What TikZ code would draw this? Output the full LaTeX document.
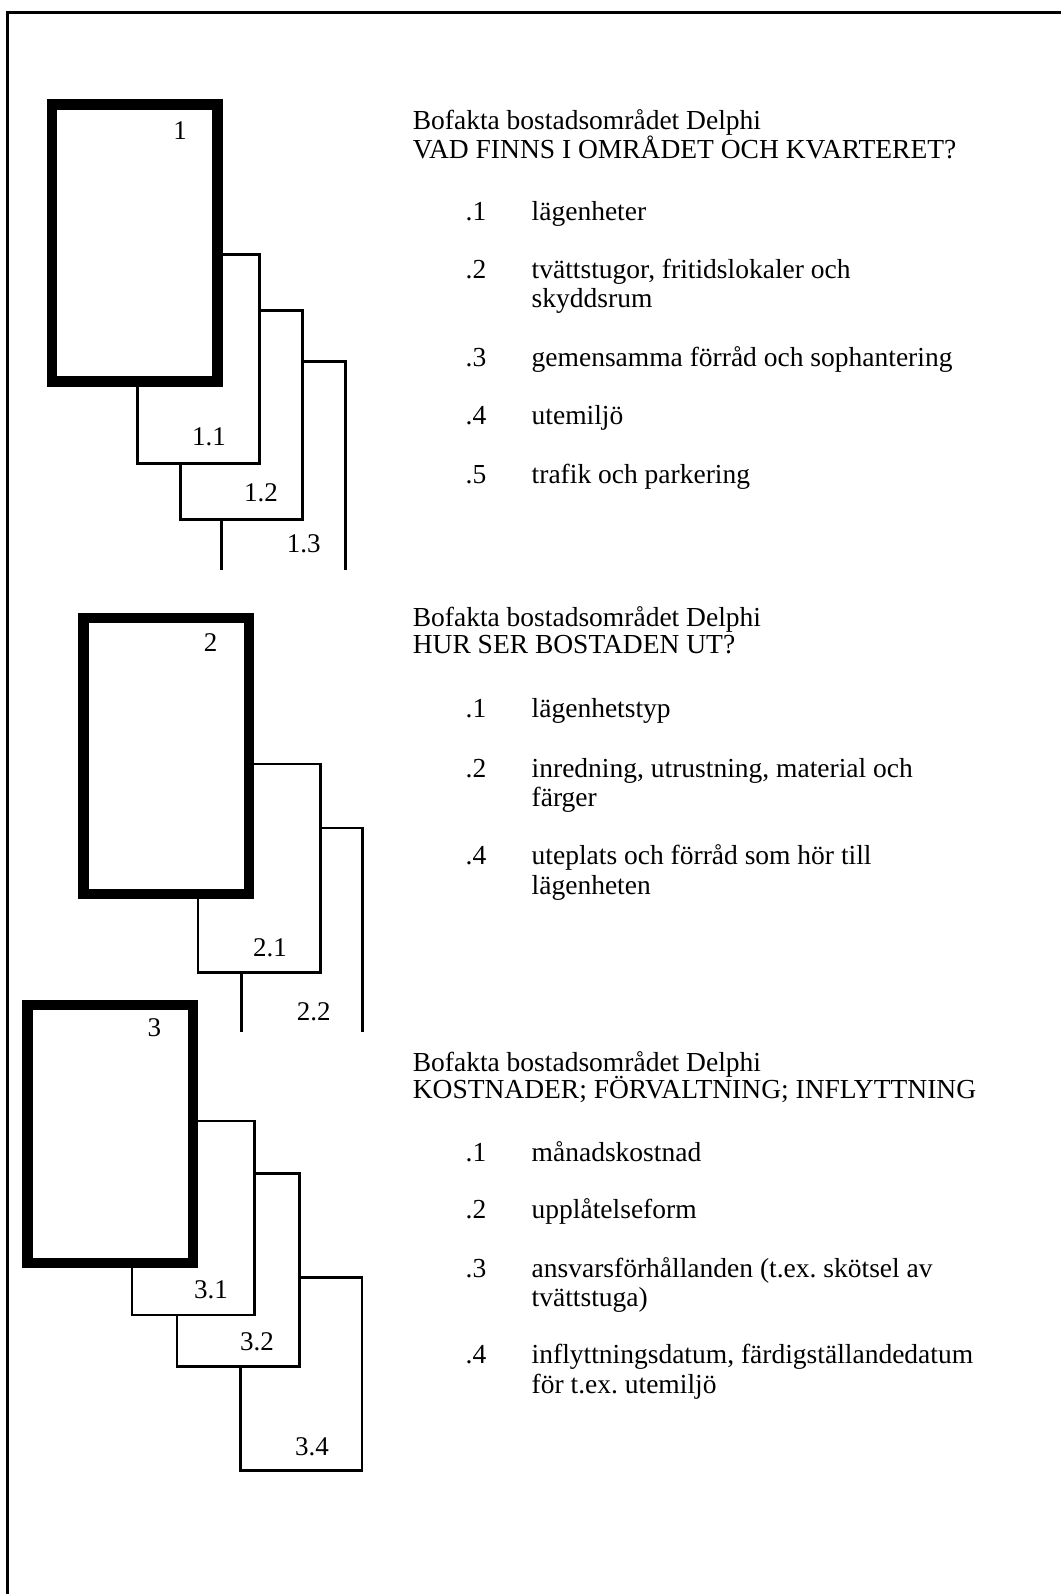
\documentclass[tikz,border=0pt]{standalone}
\usepackage{fontspec}
\setmainfont{Liberation Serif}
\frenchspacing
\begin{document}
\begin{tikzpicture}[x=1pt,y=-1pt,
  thickbox/.style={draw=black,fill=white,line width=10.5pt},
  thinbox/.style={draw=black,fill=white,line width=2.6pt},
  openbox/.style={draw=black,line width=2.6pt},
  lbl/.style={inner sep=0pt,anchor=base,font=\fontsize{27}{31}\selectfont},
  txt/.style={inner sep=0pt,anchor=base west,font=\fontsize{27.5}{29.3}\selectfont}]
\useasboundingbox (0,0) rectangle (1061,1594);

% page frame (top and left edges)
\draw[line width=2.5pt] (7.7,1594) -- (7.7,12.3) -- (1061,12.3);

% ---------- group 1 ----------
\fill[white] (221.7,361.7) rectangle (345.3,570);
\draw[openbox] (221.7,570) -- (221.7,361.7) -- (345.3,361.7) -- (345.3,570);
\path[thinbox] (180.3,310.7) rectangle (302.7,519.3);
\path[thinbox] (137.3,254.7) rectangle (259.3,463.3);
\path[thickbox] (52,104.7) rectangle (217.3,381.3);
\node[lbl] (l1)  at (180,139.3) {1};
\node[lbl] (l11) at (209,445) {1.1};
\node[lbl] (l12) at (261,501.7) {1.2};
\node[lbl] (l13) at (303.8,552.7) {1.3};

% ---------- group 2 ----------
\fill[white] (241.7,828) rectangle (362.7,1032);
\draw[openbox] (241.7,1032) -- (241.7,828) -- (362.7,828) -- (362.7,1032);
\path[thinbox] (198,764) rectangle (320.7,972.7);
\path[thickbox] (83.5,618) rectangle (249,894);
\node[lbl] (l2)  at (210.7,651.7) {2};
\node[lbl] (l21) at (270,956) {2.1};
\node[lbl] (l22) at (313.7,1020) {2.2};

% ---------- group 3 ----------
\path[thinbox] (240.7,1277.7) rectangle (362,1470.7);
\path[thinbox] (177,1173.3) rectangle (299.3,1366.7);
\path[thinbox] (132,1121) rectangle (254.3,1315);
\path[thickbox] (27.5,1005) rectangle (193,1263);
\node[lbl] (l3)  at (154.3,1036) {3};
\node[lbl] (l31) at (211,1298.3) {3.1};
\node[lbl] (l32) at (257,1350.7) {3.2};
\node[lbl] (l34) at (312,1455) {3.4};

% ---------- text block 1 ----------
\node[txt] (h1a) at (412.6,130) {Bofakta bostadsområdet Delphi};
\node[txt] (h1b) at (412.6,158.5) {VAD FINNS I OMRÅDET OCH KVARTERET?};
\node[txt] (n11) at (465.5,220.5) {.1};
\node[txt] (t11) at (531.5,220.5) {lägenheter};
\node[txt] (n12) at (465.5,278.5) {.2};
\node[txt] (t12) at (531.5,278.5) {tvättstugor, fritidslokaler och};
\node[txt] (t12b) at (531.5,307.8) {skyddsrum};
\node[txt] (n13) at (465.5,366) {.3};
\node[txt] (t13) at (531.5,366) {gemensamma förråd och sophantering};
\node[txt] (n14) at (465.5,424) {.4};
\node[txt] (t14) at (531.5,424) {utemiljö};
\node[txt] (n15) at (465.5,483) {.5};
\node[txt] (t15) at (531.5,483) {trafik och parkering};

% ---------- text block 2 ----------
\node[txt] (h2a) at (412.6,626) {Bofakta bostadsområdet Delphi};
\node[txt] (h2b) at (412.6,653) {HUR SER BOSTADEN UT?};
\node[txt] (n21) at (465.5,717.5) {.1};
\node[txt] (t21) at (531.5,717.5) {lägenhetstyp};
\node[txt] (n22) at (465.5,777.3) {.2};
\node[txt] (t22) at (531.5,777.3) {inredning, utrustning, material och};
\node[txt] (t22b) at (531.5,806.5) {färger};
\node[txt] (n24) at (465.5,864.7) {.4};
\node[txt] (t24) at (531.5,864.7) {uteplats och förråd som hör till};
\node[txt] (t24b) at (531.5,894) {lägenheten};

% ---------- text block 3 ----------
\node[txt] (h3a) at (412.6,1071) {Bofakta bostadsområdet Delphi};
\node[txt] (h3b) at (412.6,1098) {KOSTNADER; FÖRVALTNING; INFLYTTNING};
\node[txt] (n31) at (465.5,1161.5) {.1};
\node[txt] (t31) at (531.5,1161.5) {månadskostnad};
\node[txt] (n32) at (465.5,1218.4) {.2};
\node[txt] (t32) at (531.5,1218.4) {upplåtelseform};
\node[txt] (n33) at (465.5,1277.4) {.3};
\node[txt] (t33) at (531.5,1277.4) {ansvarsförhållanden (t.ex. skötsel av};
\node[txt] (t33b) at (531.5,1306.7) {tvättstuga)};
\node[txt] (n34) at (465.5,1363.7) {.4};
\node[txt] (t34) at (531.5,1363.7) {inflyttningsdatum, färdigställandedatum};
\node[txt] (t34b) at (531.5,1393) {för t.ex. utemiljö};
\end{tikzpicture}
\end{document}
